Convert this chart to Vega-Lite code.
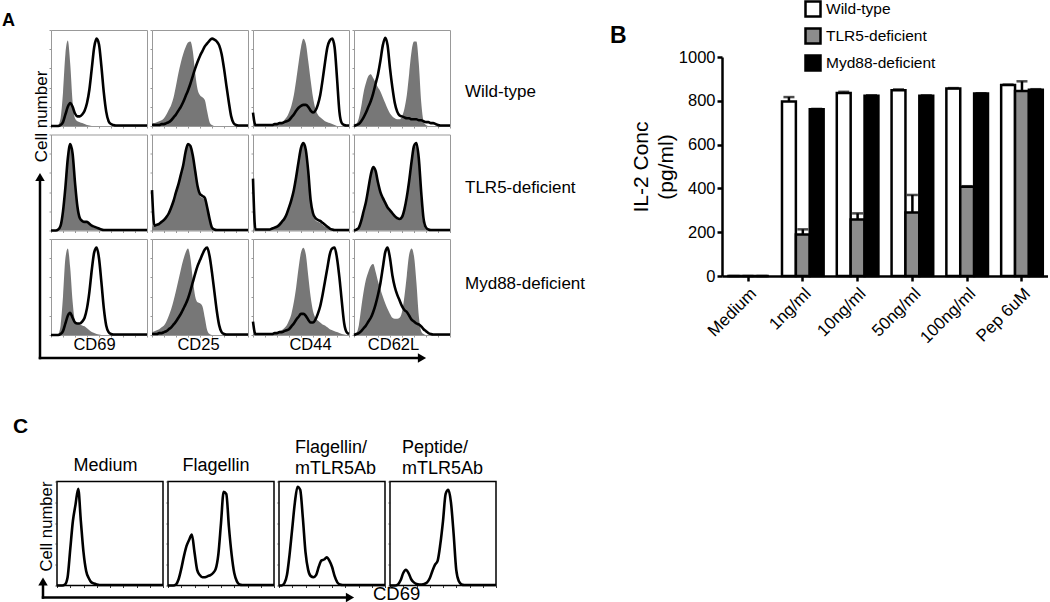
{
"$schema":"https://vega.github.io/schema/vega-lite/v6.json",
"padding":{"left":2,"top":0,"right":0,"bottom":1},
"spacing":24,
"config":{"font":"Liberation Sans","view":{"stroke":null},"axis":{"labels":false,"domain":false,"grid":false,"ticks":true,"tickSize":2,"tickColor":"#999999","labelColor":"black","titleColor":"black","titleFontWeight":"normal"},"title":{"color":"black"}},
"datasets":{
"h":[
{"x":0,"wt69f":0,"wt69l":0,"wt25f":3,"wt25l":1,"wt44f":1,"wt44l":14,"wt62f":0,"wt62l":0,"tl69f":0,"tl69l":0,"tl25f":4,"tl25l":42,"tl44f":1,"tl44l":54,"tl62f":0,"tl62l":0,"my69f":0,"my69l":0,"my25f":3,"my25l":1,"my44f":1,"my44l":14,"my62f":0,"my62l":0,"cmed":0,"cfla":0,"cfab":0,"cpep":0},
{"x":1,"wt69f":0,"wt69l":0,"wt25f":3,"wt25l":1,"wt44f":1,"wt44l":1,"wt62f":2,"wt62l":1,"tl69f":0,"tl69l":0,"tl25f":5,"tl25l":5,"tl44f":1,"tl44l":1,"tl62f":1,"tl62l":1,"my69f":0,"my69l":0,"my25f":4,"my25l":1,"my44f":1,"my44l":1,"my62f":2,"my62l":1,"cmed":0,"cfla":0,"cfab":0,"cpep":0},
{"x":2,"wt69f":0,"wt69l":0,"wt25f":4,"wt25l":1,"wt44f":1,"wt44l":1,"wt62f":8,"wt62l":2,"tl69f":0,"tl69l":0,"tl25f":6,"tl25l":6,"tl44f":1,"tl44l":1,"tl62f":3,"tl62l":3,"my69f":0,"my69l":0,"my25f":5,"my25l":1,"my44f":1,"my44l":1,"my62f":10,"my62l":2,"cmed":0,"cfla":0,"cfab":2,"cpep":0},
{"x":3,"wt69f":1,"wt69l":0,"wt25f":5,"wt25l":1,"wt44f":1,"wt44l":1,"wt62f":20,"wt62l":5,"tl69f":1,"tl69l":1,"tl25f":7,"tl25l":7,"tl44f":1,"tl44l":1,"tl62f":9,"tl62l":10,"my69f":1,"my69l":0,"my25f":6,"my25l":2,"my44f":1,"my44l":1,"my62f":28,"my62l":4,"cmed":1,"cfla":1,"cfab":10,"cpep":1},
{"x":4,"wt69f":8,"wt69l":1,"wt25f":6,"wt25l":2,"wt44f":1,"wt44l":1,"wt62f":35,"wt62l":9,"tl69f":4,"tl69l":5,"tl25f":9,"tl25l":9,"tl44f":1,"tl44l":1,"tl62f":19,"tl62l":20,"my69f":10,"my69l":1,"my25f":8,"my25l":2,"my44f":1,"my44l":1,"my62f":45,"my62l":7,"cmed":8,"cfla":6,"cfab":30,"cpep":5},
{"x":5,"wt69f":35,"wt69l":4,"wt25f":8,"wt25l":2,"wt44f":1,"wt44l":1,"wt62f":45,"wt62l":14,"tl69f":18,"tl69l":20,"tl25f":11,"tl25l":11,"tl44f":1,"tl44l":1,"tl62f":29,"tl62l":30,"my69f":40,"my69l":4,"my25f":10,"my25l":3,"my44f":1,"my44l":1,"my62f":58,"my62l":10,"cmed":35,"cfla":16,"cfab":55,"cpep":12},
{"x":6,"wt69f":75,"wt69l":12,"wt25f":12,"wt25l":3,"wt44f":1,"wt44l":1,"wt62f":52,"wt62l":20,"tl69f":42,"tl69l":45,"tl25f":14,"tl25l":14,"tl44f":1,"tl44l":1,"tl62f":43,"tl62l":44,"my69f":80,"my69l":12,"my25f":14,"my25l":4,"my44f":1,"my44l":1,"my62f":66,"my62l":14,"cmed":62,"cfla":28,"cfab":80,"cpep":15},
{"x":7,"wt69f":89,"wt69l":20,"wt25f":17,"wt25l":4,"wt44f":1,"wt44l":1,"wt62f":54,"wt62l":26,"tl69f":72,"tl69l":75,"tl25f":18,"tl25l":18,"tl44f":1,"tl44l":1,"tl62f":56,"tl62l":58,"my69f":90,"my69l":20,"my25f":20,"my25l":6,"my44f":1,"my44l":1,"my62f":72,"my62l":18,"cmed":78,"cfla":38,"cfab":95,"cpep":12},
{"x":8,"wt69f":65,"wt69l":24,"wt25f":22,"wt25l":6,"wt44f":1,"wt44l":1,"wt62f":50,"wt62l":34,"tl69f":87,"tl69l":90,"tl25f":23,"tl25l":24,"tl44f":2,"tl44l":2,"tl62f":64,"tl62l":66,"my69f":70,"my69l":23,"my25f":27,"my25l":8,"my44f":1,"my44l":1,"my62f":74,"my62l":24,"cmed":93,"cfla":44,"cfab":92,"cpep":6},
{"x":9,"wt69f":25,"wt69l":20,"wt25f":30,"wt25l":9,"wt44f":1,"wt44l":2,"wt62f":45,"wt62l":44,"tl69f":77,"tl69l":80,"tl25f":30,"tl25l":31,"tl44f":3,"tl44l":3,"tl62f":60,"tl62l":62,"my69f":35,"my69l":18,"my25f":36,"my25l":11,"my44f":1,"my44l":2,"my62f":66,"my62l":32,"cmed":62,"cfla":49,"cfab":65,"cpep":3},
{"x":10,"wt69f":8,"wt69l":13,"wt25f":42,"wt25l":12,"wt44f":2,"wt44l":2,"wt62f":40,"wt62l":54,"tl69f":47,"tl69l":50,"tl25f":39,"tl25l":40,"tl44f":4,"tl44l":4,"tl62f":48,"tl62l":50,"my69f":15,"my69l":13,"my25f":46,"my25l":14,"my44f":3,"my44l":2,"my62f":56,"my62l":42,"cmed":32,"cfla":32,"cfab":32,"cpep":1.5},
{"x":11,"wt69f":5,"wt69l":10,"wt25f":55,"wt25l":16,"wt44f":3,"wt44l":3,"wt62f":36,"wt62l":68,"tl69f":23,"tl69l":25,"tl25f":47,"tl25l":48,"tl44f":6,"tl44l":6,"tl62f":39,"tl62l":40,"my69f":12,"my69l":12,"my25f":57,"my25l":18,"my44f":4,"my44l":3,"my62f":48,"my62l":54,"cmed":14,"cfla":15,"cfab":15,"cpep":1},
{"x":12,"wt69f":4,"wt69l":10,"wt25f":66,"wt25l":20,"wt44f":4,"wt44l":3,"wt62f":30,"wt62l":84,"tl69f":12,"tl69l":13,"tl25f":57,"tl25l":58,"tl44f":9,"tl44l":9,"tl62f":33,"tl62l":34,"my69f":11,"my69l":12,"my25f":68,"my25l":22,"my44f":5,"my44l":3,"my62f":40,"my62l":70,"cmed":7,"cfla":10,"cfab":9,"cpep":1},
{"x":13,"wt69f":3,"wt69l":12,"wt25f":75,"wt25l":25,"wt44f":6,"wt44l":4,"wt62f":24,"wt62l":92,"tl69f":9,"tl69l":10,"tl25f":67,"tl25l":68,"tl44f":12,"tl44l":12,"tl62f":28,"tl62l":29,"my69f":10,"my69l":14,"my25f":78,"my25l":27,"my44f":7,"my44l":4,"my62f":33,"my62l":86,"cmed":3,"cfla":8,"cfab":8,"cpep":1.5},
{"x":14,"wt69f":2,"wt69l":16,"wt25f":82,"wt25l":31,"wt44f":9,"wt44l":5,"wt62f":18,"wt62l":84,"tl69f":8,"tl69l":9,"tl25f":80,"tl25l":82,"tl44f":16,"tl44l":17,"tl62f":23,"tl62l":24,"my69f":9,"my69l":18,"my25f":86,"my25l":32,"my44f":10,"my44l":5,"my62f":27,"my62l":91,"cmed":2,"cfla":8,"cfab":10,"cpep":3},
{"x":15,"wt69f":1,"wt69l":24,"wt25f":87,"wt25l":37,"wt44f":14,"wt44l":6,"wt62f":13,"wt62l":60,"tl69f":8,"tl69l":9,"tl25f":88,"tl25l":90,"tl44f":23,"tl44l":24,"tl62f":20,"tl62l":21,"my69f":7,"my69l":28,"my25f":90,"my25l":38,"my44f":15,"my44l":6,"my62f":22,"my62l":80,"cmed":1,"cfla":9,"cfab":18,"cpep":7},
{"x":16,"wt69f":0.5,"wt69l":38,"wt25f":88,"wt25l":44,"wt44f":21,"wt44l":9,"wt62f":10,"wt62l":40,"tl69f":6,"tl69l":7,"tl25f":86,"tl25l":88,"tl44f":31,"tl44l":32,"tl62f":17,"tl62l":18,"my69f":5,"my69l":45,"my25f":80,"my25l":46,"my44f":22,"my44l":9,"my62f":18,"my62l":62,"cmed":0.5,"cfla":10,"cfab":24,"cpep":14},
{"x":17,"wt69f":0,"wt69l":60,"wt25f":78,"wt25l":52,"wt44f":32,"wt44l":12,"wt62f":8,"wt62l":24,"tl69f":4,"tl69l":5,"tl25f":76,"tl25l":78,"tl44f":41,"tl44l":42,"tl62f":14,"tl62l":15,"my69f":3,"my69l":68,"my25f":58,"my25l":55,"my44f":34,"my44l":12,"my62f":17,"my62l":50,"cmed":0.5,"cfla":12,"cfab":25,"cpep":20},
{"x":18,"wt69f":0,"wt69l":82,"wt25f":55,"wt25l":60,"wt44f":48,"wt44l":16,"wt62f":7,"wt62l":15,"tl69f":3,"tl69l":4,"tl25f":60,"tl25l":62,"tl44f":55,"tl44l":56,"tl62f":12,"tl62l":13,"my69f":2,"my69l":86,"my25f":40,"my25l":64,"my44f":50,"my44l":16,"my62f":17,"my62l":42,"cmed":0.5,"cfla":16,"cfab":27,"cpep":24},
{"x":19,"wt69f":0,"wt69l":91,"wt25f":38,"wt25l":67,"wt44f":66,"wt44l":19,"wt62f":7,"wt62l":11,"tl69f":2,"tl69l":3,"tl25f":44,"tl25l":46,"tl44f":71,"tl44l":72,"tl62f":11,"tl62l":12,"my69f":1,"my69l":91,"my25f":34,"my25l":72,"my44f":70,"my44l":19,"my62f":18,"my62l":36,"cmed":0.5,"cfla":30,"cfab":24,"cpep":40},
{"x":20,"wt69f":0,"wt69l":85,"wt25f":32,"wt25l":73,"wt44f":82,"wt44l":21,"wt62f":10,"wt62l":10,"tl69f":1,"tl69l":2,"tl25f":36,"tl25l":38,"tl44f":85,"tl44l":86,"tl62f":13,"tl62l":14,"my69f":0.5,"my69l":80,"my25f":33,"my25l":78,"my44f":86,"my44l":22,"my62f":24,"my62l":30,"cmed":0.5,"cfla":60,"cfab":18,"cpep":62},
{"x":21,"wt69f":0,"wt69l":62,"wt25f":30,"wt25l":78,"wt44f":91,"wt44l":22,"wt62f":18,"wt62l":9,"tl69f":0.5,"tl69l":1,"tl25f":34,"tl25l":36,"tl44f":89,"tl44l":91,"tl62f":21,"tl62l":22,"my69f":0,"my69l":55,"my25f":30,"my25l":84,"my44f":91,"my44l":22,"my62f":40,"my62l":26,"cmed":0.5,"cfla":90,"cfab":9,"cpep":88},
{"x":22,"wt69f":0,"wt69l":35,"wt25f":27,"wt25l":83,"wt44f":86,"wt44l":22,"wt62f":32,"wt62l":8,"tl69f":0,"tl69l":0.5,"tl25f":32,"tl25l":34,"tl44f":82,"tl44l":84,"tl62f":34,"tl62l":35,"my69f":0,"my69l":28,"my25f":18,"my25l":89,"my44f":84,"my44l":20,"my62f":62,"my62l":24,"cmed":0.5,"cfla":88,"cfab":3,"cpep":92},
{"x":23,"wt69f":0,"wt69l":15,"wt25f":15,"wt25l":86,"wt44f":68,"wt44l":20,"wt62f":55,"wt62l":8,"tl69f":0,"tl69l":0.5,"tl25f":22,"tl25l":24,"tl44f":60,"tl44l":62,"tl62f":51,"tl62l":52,"my69f":0,"my69l":10,"my25f":5,"my25l":91,"my44f":62,"my44l":16,"my62f":84,"my62l":20,"cmed":0.5,"cfla":56,"cfab":1,"cpep":80},
{"x":24,"wt69f":0,"wt69l":5,"wt25f":4,"wt25l":89,"wt44f":48,"wt44l":16,"wt62f":78,"wt62l":7,"tl69f":0,"tl69l":0.5,"tl25f":10,"tl25l":12,"tl44f":30,"tl44l":32,"tl62f":71,"tl62l":72,"my69f":0,"my69l":3,"my25f":1,"my25l":82,"my44f":40,"my44l":13,"my62f":90,"my62l":16,"cmed":0.5,"cfla":30,"cfab":0.5,"cpep":50},
{"x":25,"wt69f":0,"wt69l":2,"wt25f":1,"wt25l":91,"wt44f":30,"wt44l":14,"wt62f":88,"wt62l":7,"tl69f":0,"tl69l":0.5,"tl25f":2,"tl25l":3,"tl44f":16,"tl44l":18,"tl62f":87,"tl62l":88,"my69f":0,"my69l":1,"my25f":0,"my25l":65,"my44f":25,"my44l":13,"my62f":82,"my62l":14,"cmed":0.5,"cfla":12,"cfab":0.5,"cpep":15},
{"x":26,"wt69f":0,"wt69l":1,"wt25f":0,"wt25l":90,"wt44f":18,"wt44l":16,"wt62f":88,"wt62l":7,"tl69f":0,"tl69l":0.5,"tl25f":0.5,"tl25l":1,"tl44f":11,"tl44l":13,"tl62f":88,"tl62l":91,"my69f":0,"my69l":0.5,"my25f":0,"my25l":45,"my44f":18,"my44l":16,"my62f":55,"my62l":12,"cmed":0.5,"cfla":4,"cfab":0.5,"cpep":4},
{"x":27,"wt69f":0,"wt69l":0.5,"wt25f":0,"wt25l":88,"wt44f":12,"wt44l":22,"wt62f":65,"wt62l":6,"tl69f":0,"tl69l":0.5,"tl25f":0,"tl25l":0.5,"tl44f":9,"tl44l":11,"tl62f":68,"tl62l":75,"my69f":0,"my69l":0.5,"my25f":0,"my25l":25,"my44f":15,"my44l":22,"my62f":20,"my62l":11,"cmed":0.5,"cfla":1,"cfab":0.5,"cpep":1},
{"x":28,"wt69f":0,"wt69l":0.5,"wt25f":0,"wt25l":84,"wt44f":9,"wt44l":32,"wt62f":25,"wt62l":6,"tl69f":0,"tl69l":0.5,"tl25f":0,"tl25l":0.5,"tl44f":8,"tl44l":10,"tl62f":30,"tl62l":40,"my69f":0,"my69l":0.5,"my25f":0,"my25l":10,"my44f":13,"my44l":30,"my62f":4,"my62l":9,"cmed":0.5,"cfla":0.5,"cfab":0.5,"cpep":0.5},
{"x":29,"wt69f":0,"wt69l":0.5,"wt25f":0,"wt25l":75,"wt44f":7,"wt44l":48,"wt62f":5,"wt62l":5,"tl69f":0,"tl69l":0.5,"tl25f":0,"tl25l":0.5,"tl44f":6,"tl44l":8,"tl62f":6,"tl62l":12,"my69f":0,"my69l":0.5,"my25f":0,"my25l":3,"my44f":11,"my44l":42,"my62f":1,"my62l":6,"cmed":0.5,"cfla":0.5,"cfab":0.5,"cpep":0.5},
{"x":30,"wt69f":0,"wt69l":0.5,"wt25f":0,"wt25l":60,"wt44f":5,"wt44l":66,"wt62f":1,"wt62l":4,"tl69f":0,"tl69l":0.5,"tl25f":0,"tl25l":0.5,"tl44f":4,"tl44l":6,"tl62f":1,"tl62l":3,"my69f":0,"my69l":0.5,"my25f":0,"my25l":1,"my44f":10,"my44l":56,"my62f":0,"my62l":4,"cmed":0.5,"cfla":0.5,"cfab":0.5,"cpep":0.5},
{"x":31,"wt69f":0,"wt69l":0.5,"wt25f":0,"wt25l":42,"wt44f":4,"wt44l":82,"wt62f":0,"wt62l":4,"tl69f":0,"tl69l":0.5,"tl25f":0,"tl25l":0.5,"tl44f":3,"tl44l":4,"tl62f":0,"tl62l":1,"my69f":0,"my69l":0.5,"my25f":0,"my25l":0.5,"my44f":8,"my44l":70,"my62f":0,"my62l":2,"cmed":0.5,"cfla":0.5,"cfab":0.5,"cpep":0.5},
{"x":32,"wt69f":0,"wt69l":0.5,"wt25f":0,"wt25l":25,"wt44f":3,"wt44l":89,"wt62f":0,"wt62l":3,"tl69f":0,"tl69l":0.5,"tl25f":0,"tl25l":0.5,"tl44f":1,"tl44l":2,"tl62f":0,"tl62l":0.5,"my69f":0,"my69l":0.5,"my25f":0,"my25l":0.5,"my44f":6,"my44l":84,"my62f":0,"my62l":1,"cmed":0.5,"cfla":0.5,"cfab":0.5,"cpep":0.5},
{"x":33,"wt69f":0,"wt69l":0.5,"wt25f":0,"wt25l":10,"wt44f":2,"wt44l":91,"wt62f":0,"wt62l":3,"tl69f":0,"tl69l":0.5,"tl25f":0,"tl25l":0.5,"tl44f":0.5,"tl44l":1,"tl62f":0,"tl62l":0.5,"my69f":0,"my69l":0.5,"my25f":0,"my25l":0.5,"my44f":5,"my44l":90,"my62f":0,"my62l":0.5,"cmed":0.5,"cfla":0.5,"cfab":0.5,"cpep":0.5},
{"x":34,"wt69f":0,"wt69l":0.5,"wt25f":0,"wt25l":3,"wt44f":1,"wt44l":82,"wt62f":0,"wt62l":2,"tl69f":0,"tl69l":0.5,"tl25f":0,"tl25l":0.5,"tl44f":0,"tl44l":0.5,"tl62f":0,"tl62l":0.5,"my69f":0,"my69l":0.5,"my25f":0,"my25l":0.5,"my44f":4,"my44l":91,"my62f":0,"my62l":0.5,"cmed":0.5,"cfla":0.5,"cfab":0.5,"cpep":0.5},
{"x":35,"wt69f":0,"wt69l":0.5,"wt25f":0,"wt25l":1,"wt44f":0,"wt44l":50,"wt62f":0,"wt62l":1,"tl69f":0,"tl69l":0.5,"tl25f":0,"tl25l":0.5,"tl44f":0,"tl44l":0.5,"tl62f":0,"tl62l":0.5,"my69f":0,"my69l":0.5,"my25f":0,"my25l":0.5,"my44f":3,"my44l":80,"my62f":0,"my62l":0.5,"cmed":0.5,"cfla":0.5,"cfab":0.5,"cpep":0.5},
{"x":36,"wt69f":0,"wt69l":0.5,"wt25f":0,"wt25l":0.5,"wt44f":0,"wt44l":15,"wt62f":0,"wt62l":0.5,"tl69f":0,"tl69l":0.5,"tl25f":0,"tl25l":0.5,"tl44f":0,"tl44l":0.5,"tl62f":0,"tl62l":0.5,"my69f":0,"my69l":0.5,"my25f":0,"my25l":0.5,"my44f":2,"my44l":60,"my62f":0,"my62l":0.5,"cmed":0.5,"cfla":0.5,"cfab":0.5,"cpep":0.5},
{"x":37,"wt69f":0,"wt69l":0.5,"wt25f":0,"wt25l":0.5,"wt44f":0,"wt44l":3,"wt62f":0,"wt62l":0.5,"tl69f":0,"tl69l":0.5,"tl25f":0,"tl25l":0.5,"tl44f":0,"tl44l":0.5,"tl62f":0,"tl62l":0.5,"my69f":0,"my69l":0.5,"my25f":0,"my25l":0.5,"my44f":1,"my44l":35,"my62f":0,"my62l":0.5,"cmed":0.5,"cfla":0.5,"cfab":0.5,"cpep":0.5},
{"x":38,"wt69f":0,"wt69l":0.5,"wt25f":0,"wt25l":0.5,"wt44f":0,"wt44l":1,"wt62f":0,"wt62l":0.5,"tl69f":0,"tl69l":0.5,"tl25f":0,"tl25l":0.5,"tl44f":0,"tl44l":0.5,"tl62f":0,"tl62l":0.5,"my69f":0,"my69l":0.5,"my25f":0,"my25l":0.5,"my44f":0.5,"my44l":12,"my62f":0,"my62l":0.5,"cmed":0.5,"cfla":0.5,"cfab":0.5,"cpep":0.5},
{"x":39,"wt69f":0,"wt69l":0.5,"wt25f":0,"wt25l":0.5,"wt44f":0,"wt44l":0.5,"wt62f":0,"wt62l":0.5,"tl69f":0,"tl69l":0.5,"tl25f":0,"tl25l":0.5,"tl44f":0,"tl44l":0.5,"tl62f":0,"tl62l":0.5,"my69f":0,"my69l":0.5,"my25f":0,"my25l":0.5,"my44f":0,"my44l":3,"my62f":0,"my62l":0.5,"cmed":0.5,"cfla":0.5,"cfab":0.5,"cpep":0.5},
{"x":40,"wt69f":0,"wt69l":0.5,"wt25f":0,"wt25l":0.5,"wt44f":0,"wt44l":0.5,"wt62f":0,"wt62l":0.5,"tl69f":0,"tl69l":0.5,"tl25f":0,"tl25l":0.5,"tl44f":0,"tl44l":0.5,"tl62f":0,"tl62l":0.5,"my69f":0,"my69l":0.5,"my25f":0,"my25l":0.5,"my44f":0,"my44l":1,"my62f":0,"my62l":0.5,"cmed":0.5,"cfla":0.5,"cfab":0.5,"cpep":0.5}
],
"bars":[
{"cond":"Medium","geno":"Wild-type","v":0,"hi":0},
{"cond":"Medium","geno":"TLR5-deficient","v":0,"hi":0},
{"cond":"Medium","geno":"Myd88-deficient","v":0,"hi":0},
{"cond":"1ng/ml","geno":"Wild-type","v":797,"hi":817},
{"cond":"1ng/ml","geno":"TLR5-deficient","v":190,"hi":213},
{"cond":"1ng/ml","geno":"Myd88-deficient","v":761,"hi":763},
{"cond":"10ng/ml","geno":"Wild-type","v":836,"hi":841},
{"cond":"10ng/ml","geno":"TLR5-deficient","v":258,"hi":286},
{"cond":"10ng/ml","geno":"Myd88-deficient","v":823,"hi":825},
{"cond":"50ng/ml","geno":"Wild-type","v":848,"hi":852},
{"cond":"50ng/ml","geno":"TLR5-deficient","v":290,"hi":370},
{"cond":"50ng/ml","geno":"Myd88-deficient","v":823,"hi":825},
{"cond":"100ng/ml","geno":"Wild-type","v":856,"hi":858},
{"cond":"100ng/ml","geno":"TLR5-deficient","v":408,"hi":410},
{"cond":"100ng/ml","geno":"Myd88-deficient","v":833,"hi":835},
{"cond":"Pep 6uM","geno":"Wild-type","v":872,"hi":874},
{"cond":"Pep 6uM","geno":"TLR5-deficient","v":845,"hi":889},
{"cond":"Pep 6uM","geno":"Myd88-deficient","v":851,"hi":853}
]
},
"hconcat":[
{"vconcat":[
 {"columns":5,"align":"each","bounds":"flush","spacing":{"row":8.5,"column":5},"concat":[
  {"width":44,"height":96,"title":{"text":"A","anchor":"start","frame":"group","dx":0,"offset":-14,"baseline":"alphabetic","fontSize":18,"fontWeight":"bold"},"data":{"values":[{"ylab":"Cell number","r1":"Wild-type","r2":"TLR5-deficient","r3":"Myd88-deficient"}]},"layer":[
   {"mark":{"type":"rule","strokeWidth":2.5,"color":"black","strokeCap":"square"},"encoding":{"x":{"datum":0.8636,"type":"quantitative","scale":{"domain":[0,1]},"axis":null},"y":{"datum":-2.4167,"type":"quantitative","scale":{"domain":[0,1]},"axis":null},"y2":{"datum":-0.5625}}},
   {"mark":{"type":"rule","strokeWidth":2.5,"color":"black","strokeCap":"square"},"encoding":{"x":{"datum":0.8636,"type":"quantitative"},"x2":{"datum":9.5},"y":{"datum":-2.4167,"type":"quantitative"}}},
   {"mark":{"type":"point","shape":"triangle-up","filled":true,"size":90,"color":"black","opacity":1},"encoding":{"x":{"datum":0.8636,"type":"quantitative"},"y":{"datum":-0.53125,"type":"quantitative"}}},
   {"mark":{"type":"point","shape":"triangle-right","filled":true,"size":90,"color":"black","opacity":1},"encoding":{"x":{"datum":9.5455,"type":"quantitative"},"y":{"datum":-2.4167,"type":"quantitative"}}},
   {"mark":{"type":"text","angle":270,"fontSize":17,"baseline":"middle","align":"center"},"encoding":{"text":{"field":"ylab"},"x":{"datum":0.909,"type":"quantitative"},"y":{"datum":0.099,"type":"quantitative"}}},
   {"mark":{"type":"text","fontSize":17,"baseline":"middle","align":"left"},"encoding":{"text":{"field":"r1"},"x":{"datum":10.523,"type":"quantitative"},"y":{"datum":0.359,"type":"quantitative"}}},
   {"mark":{"type":"text","fontSize":17,"baseline":"middle","align":"left"},"encoding":{"text":{"field":"r2"},"x":{"datum":10.523,"type":"quantitative"},"y":{"datum":-0.651,"type":"quantitative"}}},
   {"mark":{"type":"text","fontSize":17,"baseline":"middle","align":"left"},"encoding":{"text":{"field":"r3"},"x":{"datum":10.523,"type":"quantitative"},"y":{"datum":-1.651,"type":"quantitative"}}}]},
  {"width":96,"height":96,"data":{"name":"h"},"view":{"stroke":"#999999","strokeWidth":1},"encoding":{"x":{"field":"x","type":"quantitative","scale":{"domain":[0,40],"nice":false},"axis":{"title":null,"tickCount":9}}},"layer":[
   {"mark":{"type":"area","color":"#777777","interpolate":"monotone"},"encoding":{"y":{"field":"wt69f","type":"quantitative","scale":{"domain":[0,100],"nice":false},"axis":{"title":null,"tickCount":6}}}},
   {"mark":{"type":"line","color":"black","strokeWidth":2.6,"interpolate":"monotone"},"encoding":{"y":{"field":"wt69l","type":"quantitative","axis":{"title":null,"tickCount":6}}}}]},
  {"width":96,"height":96,"data":{"name":"h"},"view":{"stroke":"#999999","strokeWidth":1},"encoding":{"x":{"field":"x","type":"quantitative","scale":{"domain":[0,40],"nice":false},"axis":{"title":null,"tickCount":9}}},"layer":[
   {"mark":{"type":"area","color":"#777777","interpolate":"monotone"},"encoding":{"y":{"field":"wt25f","type":"quantitative","scale":{"domain":[0,100],"nice":false},"axis":{"title":null,"tickCount":6}}}},
   {"mark":{"type":"line","color":"black","strokeWidth":2.6,"interpolate":"monotone"},"encoding":{"y":{"field":"wt25l","type":"quantitative","axis":{"title":null,"tickCount":6}}}}]},
  {"width":96,"height":96,"data":{"name":"h"},"view":{"stroke":"#999999","strokeWidth":1},"encoding":{"x":{"field":"x","type":"quantitative","scale":{"domain":[0,40],"nice":false},"axis":{"title":null,"tickCount":9}}},"layer":[
   {"mark":{"type":"area","color":"#777777","interpolate":"monotone"},"encoding":{"y":{"field":"wt44f","type":"quantitative","scale":{"domain":[0,100],"nice":false},"axis":{"title":null,"tickCount":6}}}},
   {"mark":{"type":"line","color":"black","strokeWidth":2.6,"interpolate":"monotone"},"encoding":{"y":{"field":"wt44l","type":"quantitative","axis":{"title":null,"tickCount":6}}}}]},
  {"width":96,"height":96,"data":{"name":"h"},"view":{"stroke":"#999999","strokeWidth":1},"encoding":{"x":{"field":"x","type":"quantitative","scale":{"domain":[0,40],"nice":false},"axis":{"title":null,"tickCount":9}}},"layer":[
   {"mark":{"type":"area","color":"#777777","interpolate":"monotone"},"encoding":{"y":{"field":"wt62f","type":"quantitative","scale":{"domain":[0,100],"nice":false},"axis":{"title":null,"tickCount":6}}}},
   {"mark":{"type":"line","color":"black","strokeWidth":2.6,"interpolate":"monotone"},"encoding":{"y":{"field":"wt62l","type":"quantitative","axis":{"title":null,"tickCount":6}}}}]},
  {"width":0,"height":0,"data":{"values":[]},"mark":"point","encoding":{}},
  {"width":96,"height":96,"data":{"name":"h"},"view":{"stroke":"#999999","strokeWidth":1},"encoding":{"x":{"field":"x","type":"quantitative","scale":{"domain":[0,40],"nice":false},"axis":{"title":null,"tickCount":9}}},"layer":[
   {"mark":{"type":"area","color":"#777777","interpolate":"monotone"},"encoding":{"y":{"field":"tl69f","type":"quantitative","scale":{"domain":[0,100],"nice":false},"axis":{"title":null,"tickCount":6}}}},
   {"mark":{"type":"line","color":"black","strokeWidth":2.6,"interpolate":"monotone"},"encoding":{"y":{"field":"tl69l","type":"quantitative","axis":{"title":null,"tickCount":6}}}}]},
  {"width":96,"height":96,"data":{"name":"h"},"view":{"stroke":"#999999","strokeWidth":1},"encoding":{"x":{"field":"x","type":"quantitative","scale":{"domain":[0,40],"nice":false},"axis":{"title":null,"tickCount":9}}},"layer":[
   {"mark":{"type":"area","color":"#777777","interpolate":"monotone"},"encoding":{"y":{"field":"tl25f","type":"quantitative","scale":{"domain":[0,100],"nice":false},"axis":{"title":null,"tickCount":6}}}},
   {"mark":{"type":"line","color":"black","strokeWidth":2.6,"interpolate":"monotone"},"encoding":{"y":{"field":"tl25l","type":"quantitative","axis":{"title":null,"tickCount":6}}}}]},
  {"width":96,"height":96,"data":{"name":"h"},"view":{"stroke":"#999999","strokeWidth":1},"encoding":{"x":{"field":"x","type":"quantitative","scale":{"domain":[0,40],"nice":false},"axis":{"title":null,"tickCount":9}}},"layer":[
   {"mark":{"type":"area","color":"#777777","interpolate":"monotone"},"encoding":{"y":{"field":"tl44f","type":"quantitative","scale":{"domain":[0,100],"nice":false},"axis":{"title":null,"tickCount":6}}}},
   {"mark":{"type":"line","color":"black","strokeWidth":2.6,"interpolate":"monotone"},"encoding":{"y":{"field":"tl44l","type":"quantitative","axis":{"title":null,"tickCount":6}}}}]},
  {"width":96,"height":96,"data":{"name":"h"},"view":{"stroke":"#999999","strokeWidth":1},"encoding":{"x":{"field":"x","type":"quantitative","scale":{"domain":[0,40],"nice":false},"axis":{"title":null,"tickCount":9}}},"layer":[
   {"mark":{"type":"area","color":"#777777","interpolate":"monotone"},"encoding":{"y":{"field":"tl62f","type":"quantitative","scale":{"domain":[0,100],"nice":false},"axis":{"title":null,"tickCount":6}}}},
   {"mark":{"type":"line","color":"black","strokeWidth":2.6,"interpolate":"monotone"},"encoding":{"y":{"field":"tl62l","type":"quantitative","axis":{"title":null,"tickCount":6}}}}]},
  {"width":0,"height":0,"data":{"values":[]},"mark":"point","encoding":{}},
  {"width":96,"height":96,"data":{"name":"h"},"view":{"stroke":"#999999","strokeWidth":1},"encoding":{"x":{"field":"x","type":"quantitative","scale":{"domain":[0,40],"nice":false},"axis":{"title":"CD69","titleFontSize":16.5,"titleX":43,"titleY":14,"titleBaseline":"alphabetic","tickCount":9}}},"layer":[
   {"mark":{"type":"area","color":"#777777","interpolate":"monotone"},"encoding":{"y":{"field":"my69f","type":"quantitative","scale":{"domain":[0,100],"nice":false},"axis":{"title":null,"tickCount":6}}}},
   {"mark":{"type":"line","color":"black","strokeWidth":2.6,"interpolate":"monotone"},"encoding":{"y":{"field":"my69l","type":"quantitative","axis":{"title":null,"tickCount":6}}}}]},
  {"width":96,"height":96,"data":{"name":"h"},"view":{"stroke":"#999999","strokeWidth":1},"encoding":{"x":{"field":"x","type":"quantitative","scale":{"domain":[0,40],"nice":false},"axis":{"title":"CD25","titleFontSize":16.5,"titleX":46,"titleY":14,"titleBaseline":"alphabetic","tickCount":9}}},"layer":[
   {"mark":{"type":"area","color":"#777777","interpolate":"monotone"},"encoding":{"y":{"field":"my25f","type":"quantitative","scale":{"domain":[0,100],"nice":false},"axis":{"title":null,"tickCount":6}}}},
   {"mark":{"type":"line","color":"black","strokeWidth":2.6,"interpolate":"monotone"},"encoding":{"y":{"field":"my25l","type":"quantitative","axis":{"title":null,"tickCount":6}}}}]},
  {"width":96,"height":96,"data":{"name":"h"},"view":{"stroke":"#999999","strokeWidth":1},"encoding":{"x":{"field":"x","type":"quantitative","scale":{"domain":[0,40],"nice":false},"axis":{"title":"CD44","titleFontSize":16.5,"titleX":57,"titleY":14,"titleBaseline":"alphabetic","tickCount":9}}},"layer":[
   {"mark":{"type":"area","color":"#777777","interpolate":"monotone"},"encoding":{"y":{"field":"my44f","type":"quantitative","scale":{"domain":[0,100],"nice":false},"axis":{"title":null,"tickCount":6}}}},
   {"mark":{"type":"line","color":"black","strokeWidth":2.6,"interpolate":"monotone"},"encoding":{"y":{"field":"my44l","type":"quantitative","axis":{"title":null,"tickCount":6}}}}]},
  {"width":96,"height":96,"data":{"name":"h"},"view":{"stroke":"#999999","strokeWidth":1},"encoding":{"x":{"field":"x","type":"quantitative","scale":{"domain":[0,40],"nice":false},"axis":{"title":"CD62L","titleFontSize":16.5,"titleX":39,"titleY":14,"titleBaseline":"alphabetic","tickCount":9}}},"layer":[
   {"mark":{"type":"area","color":"#777777","interpolate":"monotone"},"encoding":{"y":{"field":"my62f","type":"quantitative","scale":{"domain":[0,100],"nice":false},"axis":{"title":null,"tickCount":6}}}},
   {"mark":{"type":"line","color":"black","strokeWidth":2.6,"interpolate":"monotone"},"encoding":{"y":{"field":"my62l","type":"quantitative","axis":{"title":null,"tickCount":6}}}}]}
 ]},
 {"bounds":"flush","spacing":5,"hconcat":[
  {"width":50,"height":104,"title":{"text":"C","anchor":"start","frame":"group","dx":11,"offset":28,"baseline":"alphabetic","fontSize":21,"fontWeight":"bold"},"data":{"values":[{"ylab":"Cell number","xlab":"CD69"}]},"layer":[
   {"mark":{"type":"rule","strokeWidth":2.5,"color":"black","strokeCap":"square"},"encoding":{"x":{"datum":0.82,"type":"quantitative","scale":{"domain":[0,1]},"axis":null},"y":{"datum":-0.1154,"type":"quantitative","scale":{"domain":[0,1]},"axis":null},"y2":{"datum":0.019}}},
   {"mark":{"type":"rule","strokeWidth":2.5,"color":"black","strokeCap":"square"},"encoding":{"x":{"datum":0.82,"type":"quantitative"},"x2":{"datum":6.92},"y":{"datum":-0.1154,"type":"quantitative"}}},
   {"mark":{"type":"point","shape":"triangle-up","filled":true,"size":90,"color":"black","opacity":1},"encoding":{"x":{"datum":0.82,"type":"quantitative"},"y":{"datum":0.0385,"type":"quantitative"}}},
   {"mark":{"type":"point","shape":"triangle-right","filled":true,"size":90,"color":"black","opacity":1},"encoding":{"x":{"datum":6.96,"type":"quantitative"},"y":{"datum":-0.1154,"type":"quantitative"}}},
   {"mark":{"type":"text","angle":270,"fontSize":16.7,"baseline":"middle","align":"center"},"encoding":{"text":{"field":"ylab"},"x":{"datum":0.89,"type":"quantitative"},"y":{"datum":0.567,"type":"quantitative"}}},
   {"mark":{"type":"text","fontSize":18.5,"baseline":"middle","align":"left"},"encoding":{"text":{"field":"xlab"},"x":{"datum":7.42,"type":"quantitative"},"y":{"datum":-0.077,"type":"quantitative"}}}]},
  {"width":106,"height":104,"data":{"name":"h"},"view":{"stroke":"black","strokeWidth":1.5},"title":{"text":"Medium","anchor":"middle","frame":"group","fontSize":18,"fontWeight":"normal","baseline":"alphabetic","offset":-8,"dx":-4.5},"mark":{"type":"line","color":"black","strokeWidth":2.6,"interpolate":"monotone"},"encoding":{"x":{"field":"x","type":"quantitative","scale":{"domain":[0,40],"nice":false},"axis":{"title":null,"tickCount":9,"tickColor":"#333333"}},"y":{"field":"cmed","type":"quantitative","scale":{"domain":[0,100],"nice":false},"axis":{"title":null,"tickCount":6,"tickColor":"#333333"}}}},
  {"width":106,"height":104,"data":{"name":"h"},"view":{"stroke":"black","strokeWidth":1.5},"title":{"text":"Flagellin","anchor":"middle","frame":"group","fontSize":18,"fontWeight":"normal","baseline":"alphabetic","offset":-8,"dx":-5},"mark":{"type":"line","color":"black","strokeWidth":2.6,"interpolate":"monotone"},"encoding":{"x":{"field":"x","type":"quantitative","scale":{"domain":[0,40],"nice":false},"axis":{"title":null,"tickCount":9,"tickColor":"#333333"}},"y":{"field":"cfla","type":"quantitative","scale":{"domain":[0,100],"nice":false},"axis":{"title":null,"tickCount":6,"tickColor":"#333333"}}}},
  {"width":106,"height":104,"data":{"name":"h"},"view":{"stroke":"black","strokeWidth":1.5},"title":{"text":["Flagellin/","mTLR5Ab"],"anchor":"middle","align":"left","frame":"group","fontSize":18,"fontWeight":"normal","baseline":"alphabetic","lineHeight":21,"offset":-11,"dx":-37},"mark":{"type":"line","color":"black","strokeWidth":2.6,"interpolate":"monotone"},"encoding":{"x":{"field":"x","type":"quantitative","scale":{"domain":[0,40],"nice":false},"axis":{"title":null,"tickCount":9,"tickColor":"#333333"}},"y":{"field":"cfab","type":"quantitative","scale":{"domain":[0,100],"nice":false},"axis":{"title":null,"tickCount":6,"tickColor":"#333333"}}}},
  {"width":106,"height":104,"data":{"name":"h"},"view":{"stroke":"black","strokeWidth":1.5},"title":{"text":["Peptide/","mTLR5Ab"],"anchor":"middle","align":"left","frame":"group","fontSize":18,"fontWeight":"normal","baseline":"alphabetic","lineHeight":21,"offset":-11,"dx":-41},"mark":{"type":"line","color":"black","strokeWidth":2.6,"interpolate":"monotone"},"encoding":{"x":{"field":"x","type":"quantitative","scale":{"domain":[0,40],"nice":false},"axis":{"title":null,"tickCount":9,"tickColor":"#333333"}},"y":{"field":"cpep","type":"quantitative","scale":{"domain":[0,100],"nice":false},"axis":{"title":null,"tickCount":6,"tickColor":"#333333"}}}}
 ]}
],"spacing":52.5},
{"vconcat":[
 {"width":0,"height":12,"data":{"values":[]},"mark":"point","encoding":{}},
 {"width":326,"height":219,"data":{"name":"bars"},
 "title":{"text":"B","anchor":"start","frame":"group","dx":-112,"offset":-17,"baseline":"alphabetic","fontSize":23,"fontWeight":"bold"},
 "encoding":{
  "x":{"field":"cond","type":"nominal","sort":["Medium","1ng/ml","10ng/ml","50ng/ml","100ng/ml","Pep 6uM"],"scale":{"paddingInner":0.24,"paddingOuter":0.095},"axis":{"title":null,"labels":true,"domain":true,"labelAngle":-45,"labelAlign":"right","labelBaseline":"top","labelFontSize":17,"labelPadding":4,"labelColor":"black","tickSize":5,"tickWidth":2.5,"tickColor":"black","domainColor":"black","domainWidth":2.5}},
  "xOffset":{"field":"geno","type":"nominal","sort":["Wild-type","TLR5-deficient","Myd88-deficient"],"scale":{"paddingInner":0,"paddingOuter":0}},
  "y":{"field":"v","type":"quantitative","scale":{"domain":[0,1000],"nice":false},"axis":{"title":["IL-2 Conc","(pg/ml)"],"titleFontSize":21,"titleFontWeight":"normal","titleLineHeight":25,"titlePadding":2,"values":[0,200,400,600,800,1000],"format":"d","labels":true,"domain":true,"labelFontSize":16.5,"labelPadding":2,"labelColor":"black","tickSize":5,"tickWidth":2.5,"tickColor":"black","domainColor":"black","domainWidth":2.5,"grid":false}}
 },
 "layer":[
  {"mark":{"type":"bar","stroke":"black","strokeWidth":2.5},"encoding":{"color":{"field":"geno","type":"nominal","sort":["Wild-type","TLR5-deficient","Myd88-deficient"],"scale":{"domain":["Wild-type","TLR5-deficient","Myd88-deficient"],"range":["#ffffff","#8c8c8c","#000000"]},"legend":{"title":null,"orient":"none","legendX":802,"legendY":-30,"direction":"vertical","symbolType":"square","symbolSize":225,"symbolStrokeColor":"black","symbolStrokeWidth":2.5,"labelFontSize":15.5,"labelOffset":4,"labelColor":"black","rowPadding":1,"padding":0}}}},
  {"mark":{"type":"rule","color":"black","strokeWidth":2.5},"encoding":{"y2":{"field":"hi"}}},
  {"mark":{"type":"tick","color":"black","thickness":2.5,"size":11},"encoding":{"y":{"field":"hi","type":"quantitative","axis":{"title":["IL-2 Conc","(pg/ml)"],"titleFontSize":21,"titleFontWeight":"normal","titleLineHeight":25,"titlePadding":2,"values":[0,200,400,600,800,1000],"format":"d","labels":true,"domain":true,"labelFontSize":16.5,"labelPadding":2,"labelColor":"black","tickSize":5,"tickWidth":2.5,"tickColor":"black","domainColor":"black","domainWidth":2.5,"grid":false}}}}
 ]}
],"bounds":"flush","spacing":15}
]
}
